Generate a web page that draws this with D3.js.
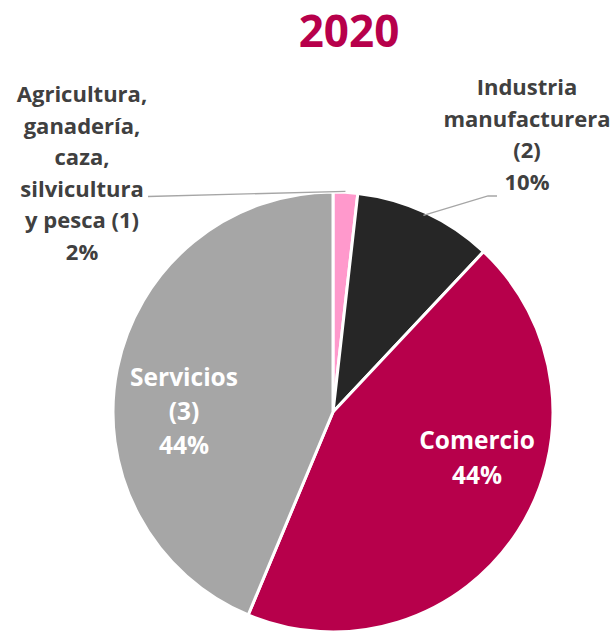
<!DOCTYPE html>
<html><head><meta charset="utf-8">
<script src="https://cdn.jsdelivr.net/npm/d3@7"></script>
<style>body{margin:0;background:#fff}svg{display:block}text{font-family:"Open Sans",sans-serif;font-weight:700}</style>
</head><body>
<script>
const title = "2020";
const categories = ["Agricultura, ganadería, caza, silvicultura y pesca (1)", "Industria manufacturera (2)", "Comercio", "Servicios (3)"];
const values = [1.8, 10.2, 44.3, 43.7];
const labels = ["2%", "10%", "44%", "44%"];
const colors = ["#ff99cc", "#262626", "#b7004b", "#a6a6a6"];
const labelLines = [
  ["Agricultura,", "ganadería,", "caza,", "silvicultura", "y pesca (1)", "2%"],
  ["Industria", "manufacturera", "(2)", "10%"],
  ["Comercio", "44%"],
  ["Servicios", "(3)", "44%"]
];

const W = 613, H = 632;
const cx = 333, cy = 412, R = 220;
const svg = d3.select("body").append("svg").attr("width", W).attr("height", H);

svg.append("text").attr("x", 349).attr("y", 47).attr("text-anchor", "middle")
  .attr("font-size", 44).attr("fill", "#b7004b").text(title);

const pie = d3.pie().sort(null).value(d => d)(values);
const arc = d3.arc().innerRadius(0).outerRadius(R);
const g = svg.append("g").attr("transform", `translate(${cx},${cy})`);
g.selectAll("path").data(pie).join("path")
  .attr("d", arc).attr("fill", (d, i) => colors[i])
  .attr("stroke", "#fff").attr("stroke-width", 3).attr("stroke-linejoin", "round");

// leader lines
const outerArc = d3.arc().innerRadius(R).outerRadius(R);
const p0 = outerArc.centroid(pie[0]);
svg.append("polyline").attr("fill", "none").attr("stroke", "#a6a6a6").attr("stroke-width", 1.3)
  .attr("points", [[cx + p0[0], cy + p0[1] - 1], [148, 196.5]].map(p => p.join(",")).join(" "));
const p1 = outerArc.centroid(pie[1]);
svg.append("polyline").attr("fill", "none").attr("stroke", "#a6a6a6").attr("stroke-width", 1.3)
  .attr("points", [[cx + p1[0] - 2, cy + p1[1] + 3], [488, 196], [497, 196]].map(p => p.join(",")).join(" "));

function block(lines, x, y0, lh, size, fill) {
  const t = svg.append("text").attr("text-anchor", "middle").attr("font-size", size).attr("fill", fill);
  lines.forEach((l, i) => t.append("tspan").attr("x", x).attr("y", y0 + i * lh).text(l));
}
block(labelLines[0], 82, 102, 31.5, 22, "#404040");
block(labelLines[1], 527, 95, 31.5, 22, "#404040");
block(labelLines[2], 477, 449, 35, 24.5, "#ffffff");
block(labelLines[3], 184, 386, 34, 24.5, "#ffffff");
</script>
</body></html>
